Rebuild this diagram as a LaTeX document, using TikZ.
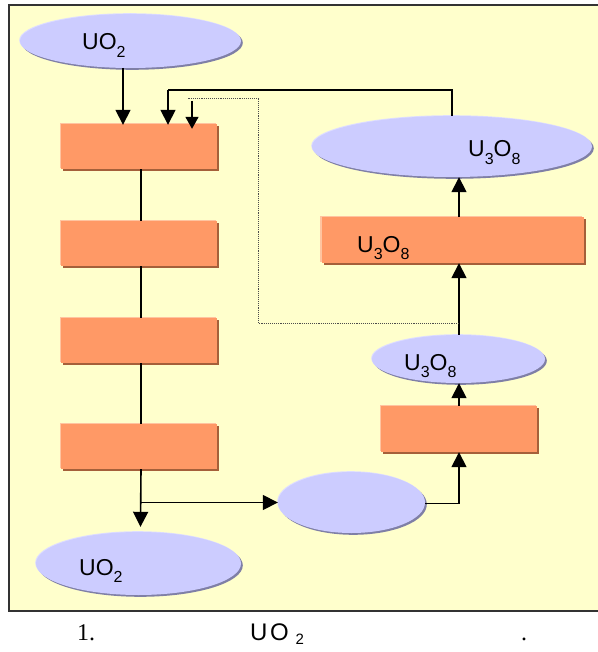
\documentclass[tikz,border=0pt]{standalone}
\usepackage{fontspec}
\setmainfont{Liberation Sans}
\newfontfamily\capserif{Liberation Serif}
\usetikzlibrary{arrows.meta,shapes.geometric}
\definecolor{bgyellow}{HTML}{FFFFCC}
\definecolor{ellfill}{HTML}{CCCCFF}
\definecolor{ellshadow}{HTML}{7F7FA6}
\definecolor{ellhigh}{HTML}{DEDEFF}
\definecolor{recfill}{HTML}{FF9966}
\definecolor{recshadow}{HTML}{A5603A}
\definecolor{rechigh}{HTML}{FFC4A0}
\definecolor{framecol}{HTML}{333333}
\newcommand{\lowsub}[1]{\raisebox{-7.5pt}{\fontsize{16}{16}\selectfont #1}}
\tikzset{
  ellbox/.style={ellipse, inner sep=0pt, fill=ellfill,
    preaction={fill=ellshadow, transform canvas={shift={(1.8pt,-1.8pt)}}},
    preaction={fill=ellhigh, transform canvas={shift={(-0.8pt,0.8pt)}}}},
  recbox/.style={rectangle, inner sep=0pt, fill=recfill,
    preaction={fill=recshadow, transform canvas={shift={(2pt,-2pt)}}},
    preaction={fill=rechigh, transform canvas={shift={(-1.2pt,1.2pt)}}}},
  lbl/.style={anchor=base west, inner sep=0pt, font=\fontsize{23}{26}\selectfont},
  conn/.style={line width=1.6pt, black},
  arr/.style={conn, -{Triangle[width=15pt,length=15pt]}},
  smallarr/.style={conn, -{Triangle[width=13pt,length=12pt]}},
  dotline/.style={line width=0.9pt, densely dotted, black!70},
  capsf/.style={anchor=base west, inner sep=0pt, font=\fontsize{24}{26}\selectfont},
  capse/.style={anchor=base west, inner sep=0pt, font=\capserif\fontsize{24}{26}\selectfont},
}
\begin{document}
\begin{tikzpicture}[x=1pt,y=-1pt]
\useasboundingbox (0,0) rectangle (597,652);
% background frame
\fill[bgyellow] (9,5) rectangle (600,611);
\draw[framecol, line width=1.6pt] (600,5) -- (9,5) -- (9,611) -- (600,611);

% nodes
\node[ellbox, minimum width=221pt, minimum height=54pt] (e1) at (130.5,41) {};
\node[recbox, minimum width=156pt, minimum height=45pt] (r1) at (139,146.5) {};
\node[recbox, minimum width=156pt, minimum height=45pt] (r2) at (139,243.5) {};
\node[recbox, minimum width=156pt, minimum height=45pt] (r3) at (139,340.5) {};
\node[recbox, minimum width=156pt, minimum height=45pt] (r4) at (139,446.5) {};
\node[ellbox, minimum width=205pt, minimum height=63pt] (e2) at (138.5,563.5) {};
\node[ellbox, minimum width=147pt, minimum height=61pt] (e3) at (351.5,502.5) {};
\node[recbox, minimum width=156pt, minimum height=46pt] (r5) at (459,429) {};
\node[ellbox, minimum width=173pt, minimum height=48pt] (e4) at (458.5,359) {};
\node[recbox, minimum width=262pt, minimum height=46pt] (r6) at (452.5,240) {};
\node[ellbox, minimum width=280pt, minimum height=61pt] (e5) at (452,146.5) {};

% labels
\node[lbl] (t1) at (82,50) {UO\lowsub{2}};
\node[lbl] (t2) at (79,575) {UO\lowsub{2}};
\node[lbl] (t3) at (404,370) {U\lowsub{3}O\lowsub{8}};
\node[lbl] (t4) at (357,252) {U\lowsub{3}O\lowsub{8}};
\node[lbl] (t5) at (468,157) {U\lowsub{3}O\lowsub{8}};

% coordinates
\coordinate (ein) at (123,68);
\coordinate (branch) at (141,502.5);
\coordinate (turn) at (459,503.5);
\coordinate (rtop) at (452,90);
\coordinate (ltop) at (168,90);
\coordinate (d0) at (459,323);
\coordinate (d1) at (258,323);
\coordinate (d2) at (258,98);
\coordinate (d3) at (188,98);
\coordinate (d4) at (192,101);

% connectors
\draw[arr] (ein) -- ([yshift=-1pt]ein |- r1.north);
\draw[conn] ([xshift=2pt]r1.south) -- ([xshift=2pt]r2.north);
\draw[conn] ([xshift=2pt]r2.south) -- ([xshift=2pt]r3.north);
\draw[conn] ([xshift=2pt]r3.south) -- ([xshift=2pt]r4.north);
\draw[arr] ([xshift=2pt]r4.south) -- ([xshift=2pt,yshift=5pt]e2.north);
\draw[arr] (branch) -- (e3.west);
\draw[conn] (e3.east |- turn) -- (turn);
\draw[arr] (turn) -- (turn |- r5.south);
\draw[arr] (r5.north) -- (e4.south -| r5.north);
\draw[arr] (e4.north -| r5.north) -- (r6.south -| r5.north);
\draw[arr] (r6.south -| r5.north) ++(0,-46) -- (e5.south -| r5.north);
\draw[conn] (e5.north -| rtop) -- (rtop) -- (ltop);
\draw[arr] (ltop) -- ([yshift=-1pt]ltop |- r1.north);
\draw[dotline] (d0) -- (d1) -- (d2) -- (d3);
\draw[smallarr] (d4) -- ([yshift=-5pt]d4 |- r1.north);

% caption
\node[capse] (c1) at (77,640) {1.};
\node[capsf] (c2) at (250,640) {U\hspace{2.5pt}O\hspace{7pt}\raisebox{-4pt}{\fontsize{15}{15}\selectfont 2}};
\node[capse] (c3) at (521,640) {.};
\end{tikzpicture}
\end{document}
